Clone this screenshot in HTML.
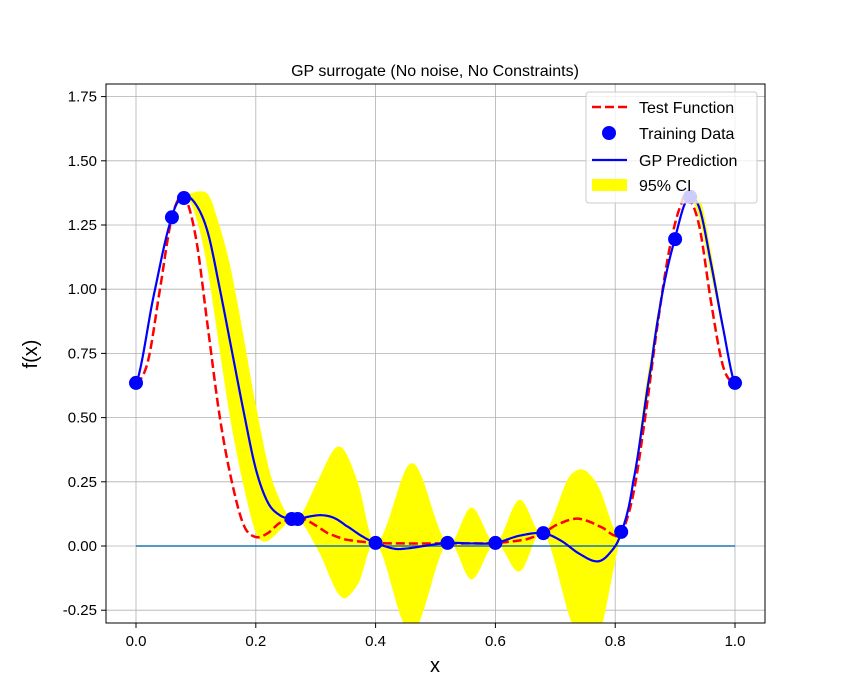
<!DOCTYPE html>
<html><head><meta charset="utf-8"><style>
body{margin:0;background:#fff}
svg{display:block;font-family:"Liberation Sans","DejaVu Sans",sans-serif}
</style></head><body>
<svg id="chart" width="850" height="700"></svg>
<script>
const testX=[0,0.02,0.04,0.06,0.08,0.10,0.12,0.14,0.16,0.18,0.20,0.22,0.24,0.26,0.28,0.30,0.32,0.35,0.40,0.45,0.50,0.55,0.60,0.65,0.68,0.70,0.73,0.75,0.78,0.80,0.81,0.83,0.85,0.87,0.89,0.91,0.92,0.94,0.96,0.98,1.0];
const testY=[0.63,0.72,1.0,1.28,1.36,1.2,0.85,0.5,0.25,0.08,0.035,0.05,0.09,0.105,0.105,0.08,0.05,0.025,0.012,0.01,0.01,0.01,0.012,0.025,0.05,0.08,0.105,0.1,0.07,0.04,0.05,0.2,0.5,0.85,1.15,1.33,1.36,1.25,0.95,0.7,0.63];
const gpX=[0,0.03,0.06,0.08,0.10,0.12,0.14,0.16,0.18,0.20,0.22,0.24,0.26,0.27,0.29,0.31,0.33,0.35,0.38,0.40,0.43,0.45,0.48,0.52,0.56,0.60,0.64,0.68,0.71,0.74,0.77,0.79,0.81,0.83,0.86,0.88,0.90,0.92,0.94,0.96,0.98,1.0];
const gpY=[0.63,0.98,1.28,1.36,1.33,1.22,1.0,0.76,0.52,0.3,0.17,0.12,0.105,0.105,0.115,0.12,0.11,0.08,0.035,0.012,-0.01,-0.01,0.0,0.012,0.01,0.012,0.04,0.05,0.02,-0.03,-0.06,-0.03,0.05,0.25,0.7,1.0,1.2,1.35,1.32,1.1,0.85,0.63];
const ciX=[0,0.06,0.08,0.10,0.13,0.16,0.20,0.23,0.26,0.27,0.30,0.34,0.37,0.40,0.46,0.52,0.56,0.60,0.64,0.68,0.73,0.77,0.81,0.85,0.90,0.92,0.95,1.0];
const ciW=[0,0,0,0.05,0.2,0.3,0.25,0.1,0,0,0.12,0.29,0.2,0,0.33,0,0.14,0,0.14,0,0.3,0.3,0,0.05,0,0,0.05,0];
const trainX=[0,0.06,0.08,0.26,0.27,0.40,0.52,0.60,0.68,0.81,0.90,0.925,1.0];
const trainY=[0.635,1.28,1.355,0.105,0.105,0.012,0.012,0.012,0.05,0.055,1.195,1.36,0.635];
const xTicks=[0,0.2,0.4,0.6,0.8,1.0];
const yTicks=[-0.25,0,0.25,0.5,0.75,1.0,1.25,1.5,1.75];

const L=106,R=765,T=84,B=623;
const sx=v=>136+v*599;
const sy=v=>546-v*256.8;
const NS="http://www.w3.org/2000/svg";
const svg=document.getElementById('chart');
function mk(tag,attrs,parent){const e=document.createElementNS(NS,tag);for(const k in attrs)e.setAttribute(k,attrs[k]);(parent||svg).appendChild(e);return e;}
function interp(xs,ys,x){for(let i=0;i<xs.length-1;i++){if(x<=xs[i+1]){const t=(x-xs[i])/(xs[i+1]-xs[i]);const p0=ys[Math.max(i-1,0)],p1=ys[i],p2=ys[i+1],p3=ys[Math.min(i+2,ys.length-1)];
const t2=t*t,t3=t2*t;return 0.5*((2*p1)+(-p0+p2)*t+(2*p0-5*p1+4*p2-p3)*t2+(-p0+3*p1-3*p2+p3)*t3);}}return ys[ys.length-1];}
function curve(xs,ys){let d='';for(let k=0;k<=400;k++){const x=k/400;d+=(k?'L':'M')+sx(x).toFixed(2)+','+sy(interp(xs,ys,x)).toFixed(2);}return d;}

const defs=mk('defs',{});const cp=mk('clipPath',{id:'clip'},defs);mk('rect',{x:L,y:T,width:R-L,height:B-T},cp);
const title=mk('text',{x:435,y:76,'text-anchor':'middle','font-size':16});title.textContent='GP surrogate (No noise, No Constraints)';

const grid=mk('g',{stroke:'#b0b0b0','stroke-width':0.8});

xTicks.forEach(t=>{mk('line',{x1:sx(t),x2:sx(t),y1:T,y2:B},grid);mk('line',{x1:sx(t),x2:sx(t),y1:B,y2:B+5,stroke:'#000'});
const tx=mk('text',{x:sx(t),y:B+23,'text-anchor':'middle','font-size':15});tx.textContent=t.toFixed(1);});
yTicks.forEach(t=>{mk('line',{x1:L,x2:R,y1:sy(t),y2:sy(t)},grid);mk('line',{x1:L-5,x2:L,y1:sy(t),y2:sy(t),stroke:'#000'});
const tx=mk('text',{x:L-9,y:sy(t)+5,'text-anchor':'end','font-size':15});tx.textContent=t.toFixed(2);});
const g=mk('g',{'clip-path':'url(#clip)'});
let up='',lo='';const N=400;
for(let k=0;k<=N;k++){const x=k/N;const m=interp(gpX,gpY,x);const w=Math.max(0,interp(ciX,ciW,x));up+=(k?'L':'M')+sx(x).toFixed(2)+','+sy(m+w).toFixed(2);}
for(let k=N;k>=0;k--){const x=k/N;const m=interp(gpX,gpY,x);const w=Math.max(0,interp(ciX,ciW,x));lo+='L'+sx(x).toFixed(2)+','+sy(m-w).toFixed(2);}
const band=mk('path',{d:up+lo+'Z',fill:'#ffff00'},g);

const zl=mk('line',{x1:sx(0),x2:sx(1),y1:sy(0),y2:sy(0),stroke:'#1f77b4','stroke-width':1.5},g);

const tl=mk('path',{d:curve(testX,testY),fill:'none',stroke:'#ff0000','stroke-width':2.5,'stroke-dasharray':'9,4'},g);

const gl=mk('path',{d:curve(gpX,gpY),fill:'none',stroke:'#0000ff','stroke-width':2.2},g);

trainX.forEach((x,i)=>{const c=mk('circle',{cx:sx(x),cy:sy(trainY[i]),r:7,fill:'#0000ff'});
});
mk('rect',{x:L,y:T,width:R-L,height:B-T,fill:'none',stroke:'#000','stroke-width':1});
const xl=mk('text',{x:435,y:672,'text-anchor':'middle','font-size':20});xl.textContent='x';
const yl=mk('text',{x:37,y:354,'text-anchor':'middle','font-size':20,transform:'rotate(-90 37 354)'});yl.textContent='f(x)';
const lg=mk('g',{});
mk('rect',{x:586,y:92,width:171,height:111,rx:3,fill:'#fff','fill-opacity':0.8,stroke:'#ccc'},lg);
mk('line',{x1:592,x2:627,y1:107,y2:107,stroke:'#f00','stroke-width':2.5,'stroke-dasharray':'9,4'},lg);
mk('circle',{cx:609,cy:133,r:7,fill:'#00f'},lg);
mk('line',{x1:592,x2:627,y1:160,y2:160,stroke:'#00f','stroke-width':2.2},lg);
mk('rect',{x:592,y:179,width:35,height:12,fill:'#ff0'},lg);
[['Test Function',107],['Training Data',133],['GP Prediction',160],['95% CI',185]].forEach(([t,y])=>{const e=mk('text',{x:639,y:y+6,'font-size':16},lg);e.textContent=t;});
</script>
</body></html>
